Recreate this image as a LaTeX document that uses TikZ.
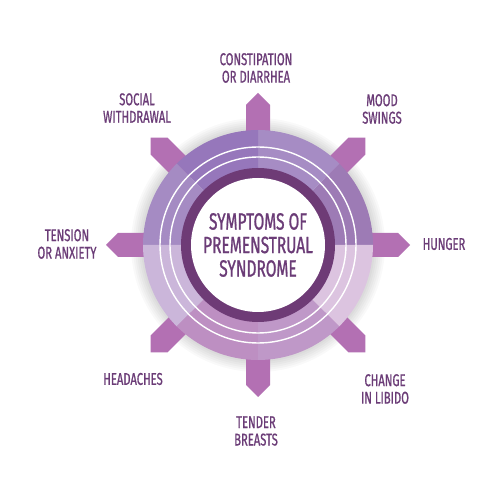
\documentclass[tikz,border=0pt]{standalone}
\usepackage{fontspec}
\setmainfont{Fira Sans}[FakeStretch=0.66, FakeBold=0.9]
\definecolor{txt}{HTML}{6B3C77}
\definecolor{arrowc}{HTML}{B370B3}
\definecolor{darkring}{HTML}{6E3B76}
\definecolor{sA}{HTML}{9D7BB5}
\definecolor{sB}{HTML}{A68CC4}
\definecolor{sC}{HTML}{9677BB}
\definecolor{sD}{HTML}{A58BC3}
\definecolor{sE}{HTML}{CBB6DA}
\definecolor{sF}{HTML}{BD8FC2}
\definecolor{sG}{HTML}{BF98C8}
\definecolor{sH}{HTML}{DCC4E0}
\tikzset{
  lbl/.style={text=txt, align=center, font=\fontsize{17}{17.5}\selectfont, inner sep=0pt},
  ctr/.style={text=txt, align=center, font=\fontsize{23.5}{23.5}\selectfont, inner sep=0pt},
  arrowshape/.style={fill=arrowc}
}
\begin{document}
\begin{tikzpicture}[x=1pt,y=1pt]
\useasboundingbox (0,0) rectangle (500,500);
\fill[white] (0,0) rectangle (500,500);
\coordinate (O) at (258,255);
% shadow
\foreach \r in {117,119,121,123,125,127}
  \fill[black, opacity=0.025, shift={(1,-2)}] (O) circle[radius=\r];
% arrows
\foreach \a in {0,45,...,315}
  \fill[arrowshape, shift={(O)}, rotate=\a] (95,-12) -- (140,-12) -- (152,0) -- (140,12) -- (95,12) -- cycle;
% sectors
\foreach \a/\c in {0/sA,45/sB,90/sC,135/sD,180/sE,225/sF,270/sG,315/sH}
  \fill[\c, shift={(O)}] (0,0) -- (\a:115) arc[start angle=\a, delta angle=45, radius=115] -- cycle;
% white lines
\draw[white, line width=1.4pt] (O) circle[radius=98];
\draw[white, line width=1.4pt] (O) circle[radius=88];
% dark ring and center
\fill[darkring] (O) circle[radius=77];
\fill[white] (O) circle[radius=67];
\node[ctr] (center) at (258,255) {SYMPTOMS OF\\PREMENSTRUAL\\SYNDROME};
% labels
\node[lbl] (constip) at (256,432) {CONSTIPATION\\OR DIARRHEA};
\node[lbl] (mood) at (382,391) {MOOD\\SWINGS};
\node[lbl] (hunger) at (444,256) {HUNGER};
\node[lbl] (libido) at (385,111) {CHANGE\\IN LIBIDO};
\node[lbl] (tender) at (256,69) {TENDER\\BREASTS};
\node[lbl] (headaches) at (133,121) {HEADACHES};
\node[lbl] (tension) at (67,256) {TENSION\\OR ANXIETY};
\node[lbl] (social) at (137,392) {SOCIAL\\WITHDRAWAL};
\end{tikzpicture}
\end{document}
